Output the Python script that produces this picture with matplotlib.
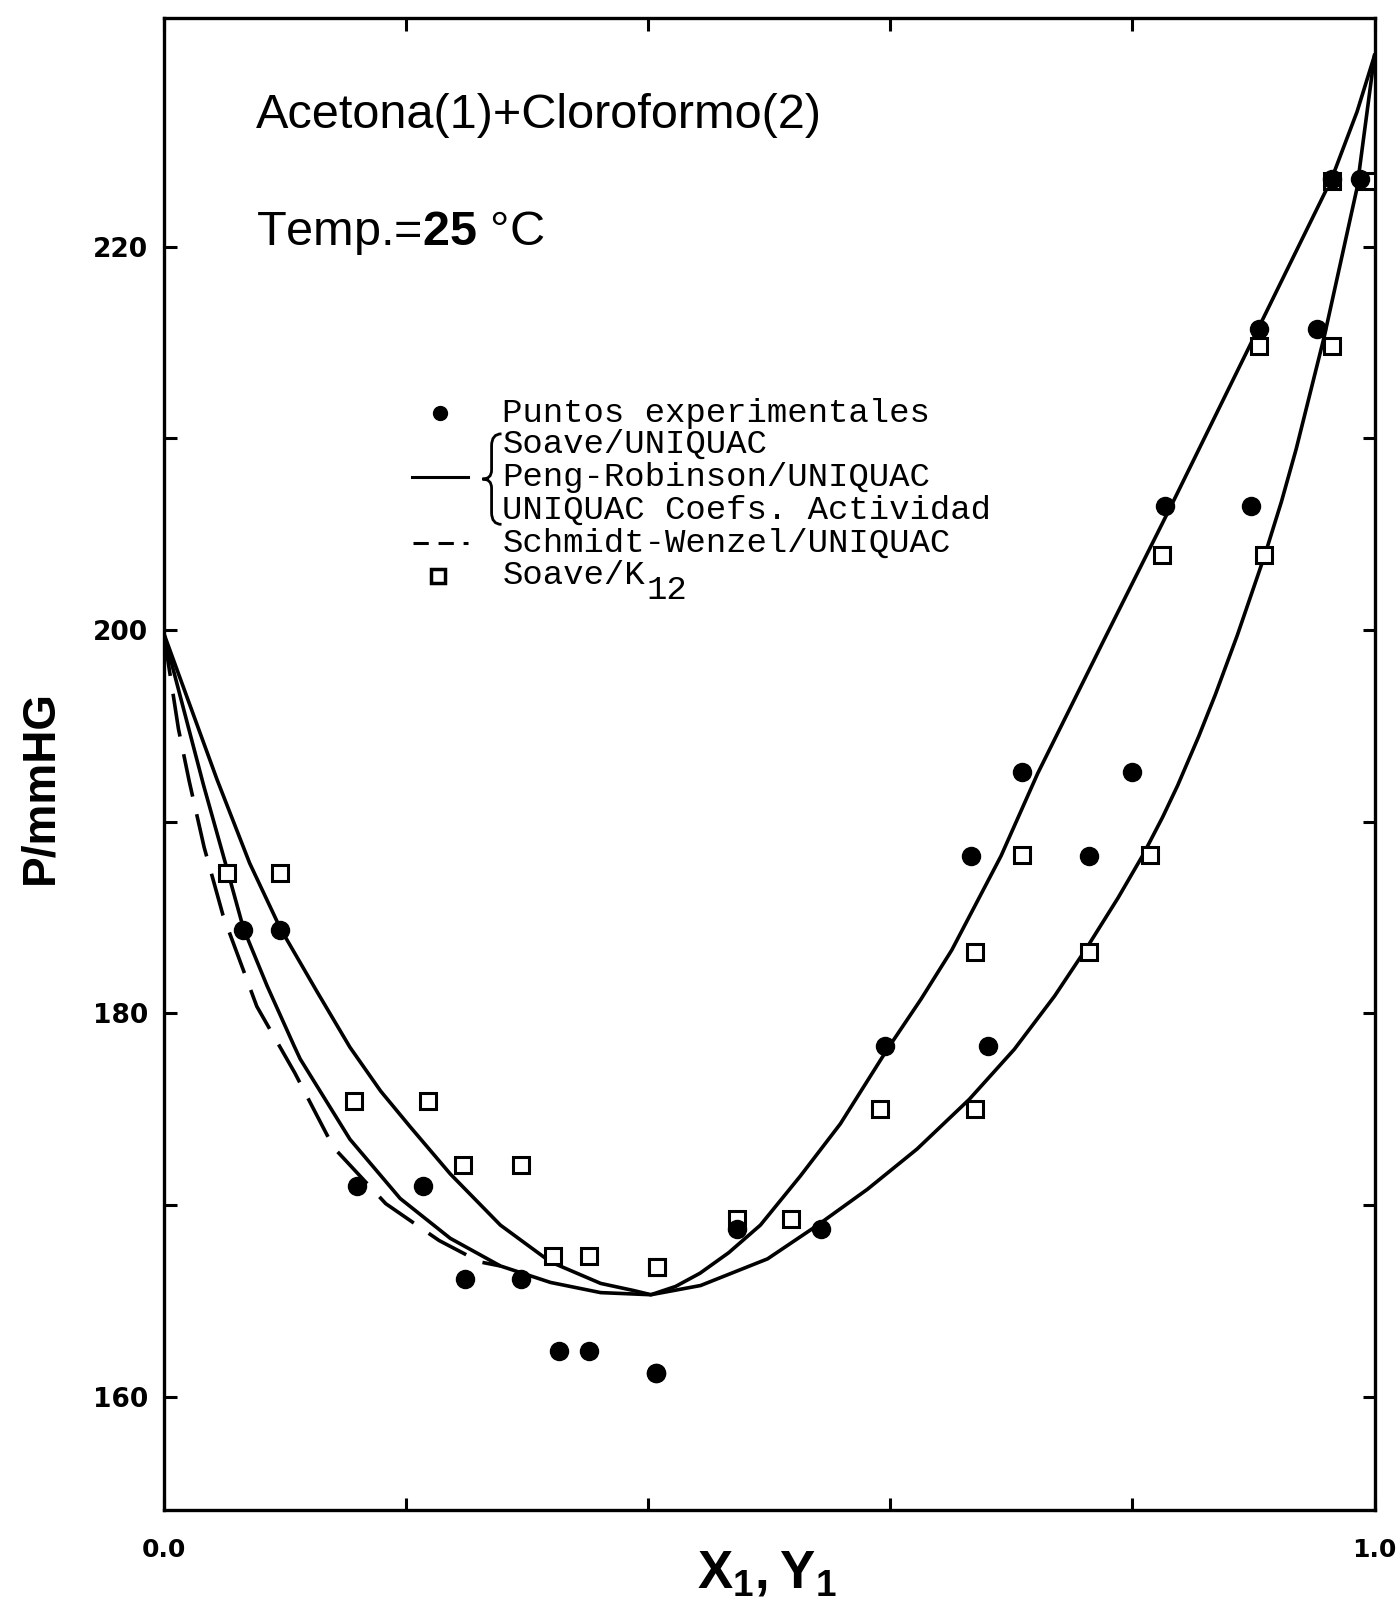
import matplotlib
matplotlib.use("Agg")
import matplotlib.pyplot as plt
from matplotlib.path import Path
from matplotlib.patches import PathPatch

plt.rcParams['mathtext.fontset'] = 'custom'
plt.rcParams['mathtext.rm'] = 'Liberation Sans'
plt.rcParams['mathtext.bf'] = 'Liberation Sans:bold'

# curva de burbuja (P-x1)
burbuja_x = [0.0, 0.044, 0.071, 0.0964, 0.1268, 0.1538, 0.1792, 0.2037, 0.2367, 0.2781,
             0.3195, 0.3609, 0.388, 0.4024, 0.4227, 0.4429, 0.4666, 0.4928, 0.5258, 0.5588,
             0.5976, 0.6255, 0.6509, 0.6915, 0.7219, 0.776, 0.8318, 0.9036, 0.9645, 0.9856, 1.0]
burbuja_P = [199.84, 192.21, 187.84, 184.43, 181.12, 178.24, 175.95, 174.08, 171.63, 168.96,
             167.04, 165.92, 165.55, 165.33, 165.76, 166.45, 167.52, 168.96, 171.52, 174.24,
             178.13, 180.75, 183.31, 188.21, 192.53, 199.41, 206.45, 215.68, 223.52, 227.04, 229.97]

# curva de rocio (P-y1)
rocio_x = [0.0, 0.033, 0.0524, 0.0659, 0.0854, 0.1074, 0.1127, 0.1538, 0.1953, 0.2367,
           0.2781, 0.3195, 0.3609, 0.4024, 0.4434, 0.4987, 0.5401, 0.5812, 0.6222, 0.6653,
           0.7025, 0.7358, 0.7628, 0.7882, 0.8088, 0.825, 0.8374, 0.8548, 0.8686, 0.8867,
           0.9096, 0.9231, 0.9353, 0.9585, 0.9855, 1.0]
rocio_P = [199.84, 191.89, 187.52, 184.43, 181.44, 178.35, 177.63, 173.44, 170.35, 168.27,
           166.83, 165.97, 165.44, 165.33, 165.81, 167.20, 168.96, 170.83, 172.93, 175.52,
           178.13, 180.91, 183.47, 186.03, 188.27, 190.24, 191.89, 194.45, 196.64, 199.73,
           203.95, 206.69, 209.44, 215.31, 223.04, 229.97]

# Schmidt-Wenzel/UNIQUAC (rocio, solo donde se separa)
sw_x = [0.0, 0.0122, 0.0211, 0.0334, 0.049, 0.0769, 0.1082, 0.1403, 0.1834, 0.2274, 0.2612, 0.2781]
sw_P = [199.84, 194.84, 192.11, 188.67, 185.12, 180.37, 176.91, 173.01, 170.08, 168.16, 167.04, 166.83]

# puntos experimentales
exp_P = [184.37, 170.99, 166.13, 162.40, 161.23, 168.75, 178.30, 188.21, 192.59, 206.45, 215.68, 223.52]
exp_x1 = [0.0964, 0.2139, 0.2950, 0.3516, 0.4066, 0.4734, 0.5960, 0.6670, 0.7092, 0.8267, 0.9045, 0.9645]
exp_y1 = [0.0651, 0.1598, 0.2485, 0.3263, 0.4066, 0.5427, 0.6805, 0.7642, 0.7997, 0.8977, 0.9527, 0.9882]

# Soave/K12
k12_P = [187.31, 175.41, 172.11, 167.36, 166.77, 169.30, 175.00, 183.20, 188.27, 203.89, 214.83, 223.41]
k12_x1 = [0.0964, 0.2181, 0.2950, 0.3516, 0.4074, 0.4736, 0.5917, 0.6703, 0.7092, 0.8242, 0.9045, 0.9645]
k12_y1 = [0.0524, 0.1572, 0.2468, 0.3212, 0.4074, 0.5177, 0.6703, 0.7642, 0.8149, 0.9087, 0.9645, 0.9941]

etiquetas = ["Puntos experimentales", "Soave/UNIQUAC", "Peng-Robinson/UNIQUAC",
             "UNIQUAC Coefs. Actividad", "Schmidt-Wenzel/UNIQUAC", "Soave/K"]

fig = plt.figure(figsize=(13.99, 16.03), dpi=100)
ax = fig.add_axes([0.117, 0.058, 0.8655, 0.9305])

lw = 2.6
ax.plot(burbuja_x, burbuja_P, color='black', lw=lw, solid_joinstyle='round', zorder=2)
ax.plot(rocio_x, rocio_P, color='black', lw=lw, solid_joinstyle='round', zorder=2)
ax.plot(sw_x, sw_P, color='black', lw=lw, dashes=(12, 5), zorder=2)

ax.plot(k12_x1, k12_P, 's', ms=12, mfc='white', mec='black', mew=2.2, zorder=3)
ax.plot(k12_y1, k12_P, 's', ms=12, mfc='white', mec='black', mew=2.2, zorder=3)
ax.plot(exp_x1, exp_P, 'o', ms=13, color='black', zorder=4)
ax.plot(exp_y1, exp_P, 'o', ms=13, color='black', zorder=4)

ax.set_xlim(0, 1)
ax.set_ylim(154.1, 231.9)

ax.set_xticks([0, 0.2, 0.4, 0.6, 0.8, 1.0])
ax.set_xticklabels(["0.0", "", "", "", "", "1.0"])
ax.set_yticks([160, 180, 200, 220])
ax.set_yticks([170, 190, 210], minor=True)
ax.tick_params(axis='both', which='both', direction='in', length=9, width=2.2,
               top=True, right=True)
ax.tick_params(axis='x', pad=20, labelsize=18)
ax.tick_params(axis='y', pad=11, labelsize=19)
for lab in ax.get_xticklabels() + ax.get_yticklabels():
    lab.set_fontweight('bold')
for sp in ax.spines.values():
    sp.set_linewidth(2.4)

# textos del titulo
ax.text(0.076, 0.935, "Acetona(1)+Cloroformo(2)", transform=ax.transAxes,
        fontsize=35, family='Liberation Sans', va='center', ha='left')
ax.text(0.076, 0.856, r"Temp.=$\mathbf{25}$ °C", transform=ax.transAxes,
        fontsize=35, family='Liberation Sans', va='center', ha='left')

# leyenda dibujada a mano
fmono = dict(family='Liberation Mono', fontsize=24.5, va='center', ha='left', transform=ax.transAxes)
filas = [0.7354, 0.7142, 0.6923, 0.6703, 0.6484, 0.6265]
xt = 0.2796
for lab, yf in zip(etiquetas, filas):
    ax.text(xt, yf, lab, **fmono)
ax.text(0.3986, 0.6162, "12", **fmono)

ax.plot([0.228], [filas[0]], 'o', ms=10, color='black', transform=ax.transAxes)
ax.plot([0.2052, 0.2517], [filas[2], filas[2]], color='black', lw=2.2, transform=ax.transAxes)
ax.plot([0.2060, 0.2517], [filas[4], filas[4]], color='black', lw=2.2, dashes=(5, 3.2),
        transform=ax.transAxes)
ax.plot([0.2264], [filas[5]], 's', ms=10, mfc='white', mec='black', mew=2.5,
        transform=ax.transAxes)

# llave
bx, tip, ex = 0.2708, 0.2632, 0.2790
yt, ym, yb = 0.7215, 0.6912, 0.6608
verts = [(ex, yt), (bx, yt), (bx, yt - 0.008),
         (bx, ym + 0.006),
         (bx, ym), (tip, ym),
         (bx, ym), (bx, ym - 0.006),
         (bx, yb + 0.008),
         (bx, yb), (ex, yb)]
codes = [Path.MOVETO, Path.CURVE3, Path.CURVE3,
         Path.LINETO,
         Path.CURVE3, Path.CURVE3,
         Path.CURVE3, Path.CURVE3,
         Path.LINETO,
         Path.CURVE3, Path.CURVE3]
ax.add_patch(PathPatch(Path(verts, codes), fill=False, lw=2.0, transform=ax.transAxes))

fig.text(0.029, 0.509, "P/mmHG", rotation=90, fontsize=33, fontweight='bold',
         family='Liberation Sans', ha='center', va='center')
fig.text(0.548, 0.019, r"$\mathbf{X_1,Y_1}$", fontsize=38, ha='center', va='center')

fig.savefig("out.png", dpi=100, facecolor='white')
